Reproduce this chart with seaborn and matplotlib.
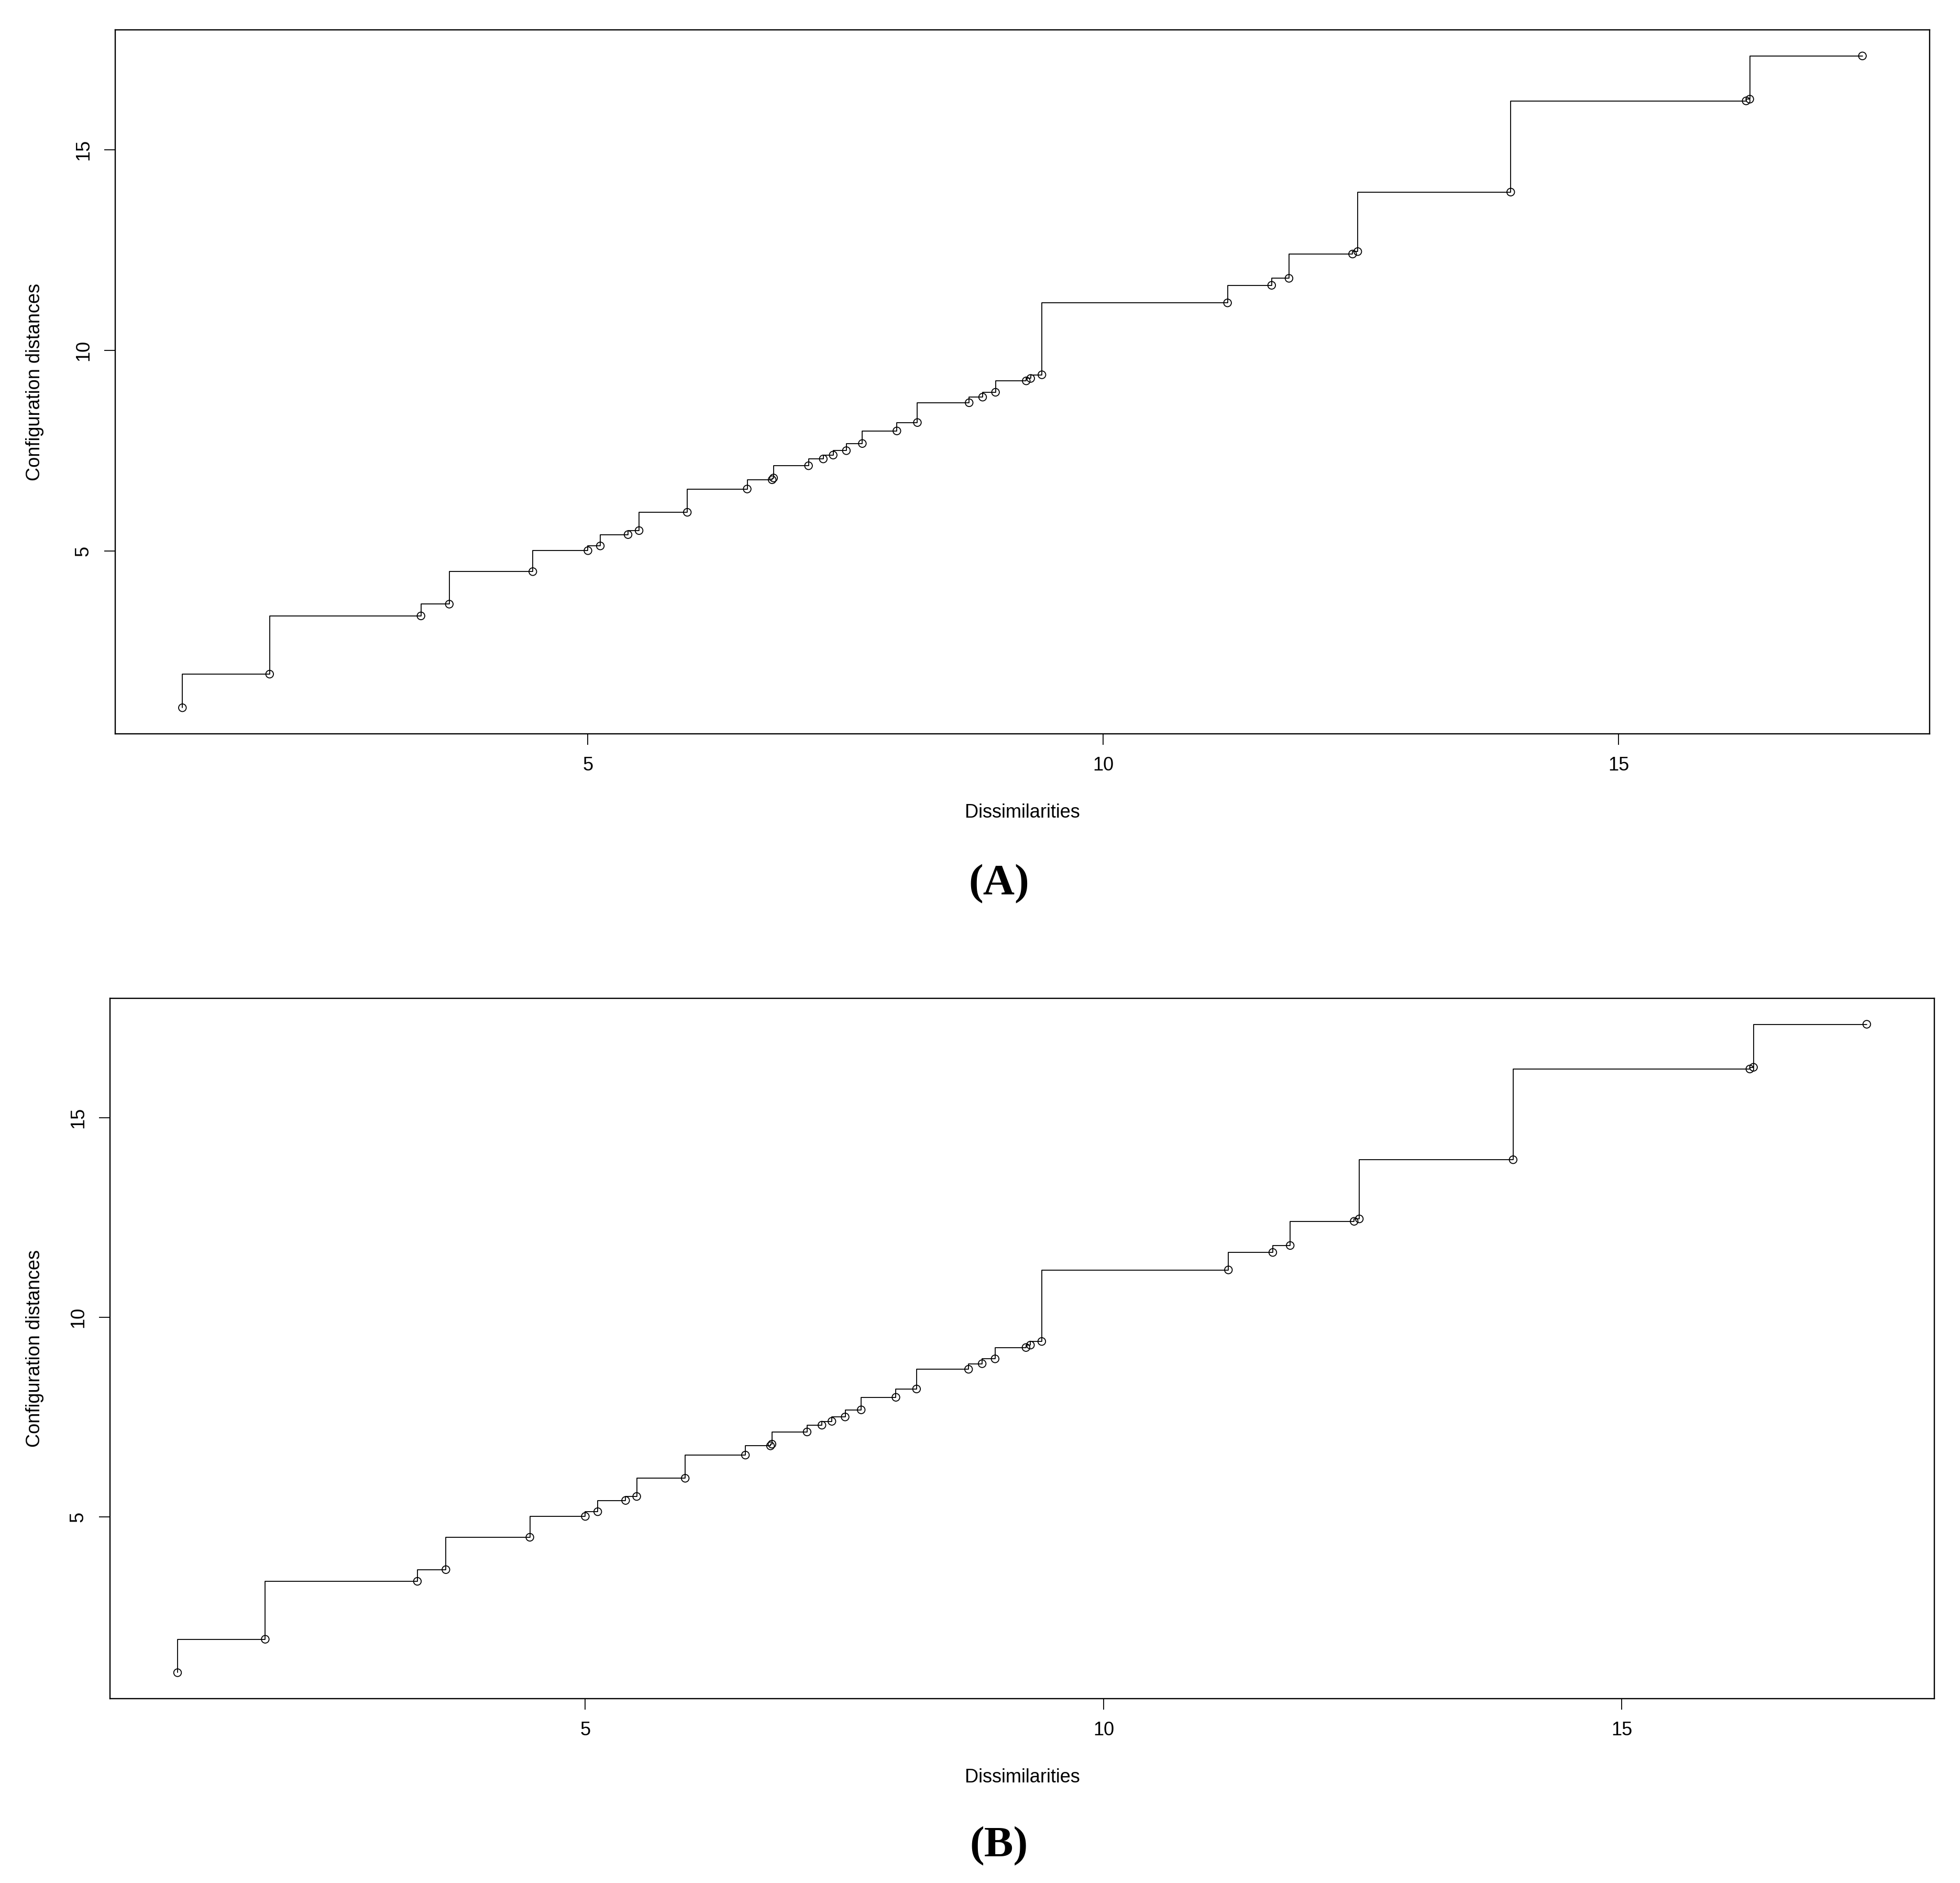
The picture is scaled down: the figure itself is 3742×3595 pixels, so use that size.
import matplotlib
matplotlib.use("Agg")
import matplotlib.pyplot as plt
import seaborn as sns
import pandas as pd

# Shepard diagram values (same data in both panels)
dissimilarities = [1.066, 1.912, 3.380, 3.655, 4.465, 5.000, 5.120, 5.389, 5.496,
                   5.964, 6.545, 6.787, 6.801, 7.140, 7.283, 7.379, 7.507, 7.662,
                   7.997, 8.196, 8.698, 8.829, 8.954, 9.252, 9.295, 9.404, 11.205,
                   11.633, 11.801, 12.418, 12.468, 13.952, 16.236, 16.271, 17.364]
config_distances = [1.093, 1.931, 3.383, 3.676, 4.487, 5.010, 5.128, 5.410, 5.510,
                    5.966, 6.547, 6.778, 6.822, 7.127, 7.297, 7.393, 7.503, 7.681,
                    7.995, 8.204, 8.698, 8.838, 8.959, 9.243, 9.304, 9.395, 11.188,
                    11.626, 11.800, 12.406, 12.467, 13.950, 16.224, 16.267, 17.345]
tick_values = [5, 10, 15]
panel_labels = ["(A)", "(B)"]

df = pd.DataFrame({"Dissimilarities": dissimilarities,
                   "Configuration distances": config_distances})

sns.set_style("ticks")
plt.rcParams["font.family"] = ["Liberation Sans", "DejaVu Sans"]
plt.rcParams["text.color"] = "black"
plt.rcParams["axes.labelcolor"] = "black"

W, H = 3742, 3595
fig = plt.figure(figsize=(W / 100, H / 100), dpi=100)

# axes boxes in pixels: left, top, right, bottom
boxes = [(220, 57, 3684, 1401), (210, 1906, 3693, 3243)]
caption_y = [1688, 3525]

for (l, t, r, b), cap, cy in zip(boxes, panel_labels, caption_y):
    ax = fig.add_axes([l / W, 1 - b / H, (r - l) / W, (b - t) / H])
    sns.lineplot(data=df, x="Dissimilarities", y="Configuration distances",
                 drawstyle="steps-pre", color="black", linewidth=1.3,
                 estimator=None, sort=True, ax=ax)
    sns.scatterplot(data=df, x="Dissimilarities", y="Configuration distances",
                    marker="o", s=110, facecolors="none", edgecolor="black",
                    linewidth=1.3, ax=ax)
    ax.margins(0.04)
    ax.set_xticks(tick_values)
    ax.set_yticks(tick_values)
    ax.tick_params(direction="out", length=15, width=1.3, pad=16,
                   labelsize=26, colors="black")
    for lab in ax.get_yticklabels():
        lab.set_rotation(90)
        lab.set_va("center")
    ax.set_xlabel("Dissimilarities", fontsize=26, va="center")
    ax.xaxis.set_label_coords(0.5, -150 / (b - t))
    ax.set_ylabel("Configuration distances", fontsize=26, va="center")
    ax.yaxis.set_label_coords(-(l - 67) / (r - l), 0.5)
    for sp in ax.spines.values():
        sp.set_linewidth(1.7)
        sp.set_color("black")
    fig.text(1907 / W, 1 - cy / H, cap, ha="center", va="center",
             fontsize=60, fontweight="bold", family="Liberation Serif")

fig.savefig("out.png", dpi=100)
